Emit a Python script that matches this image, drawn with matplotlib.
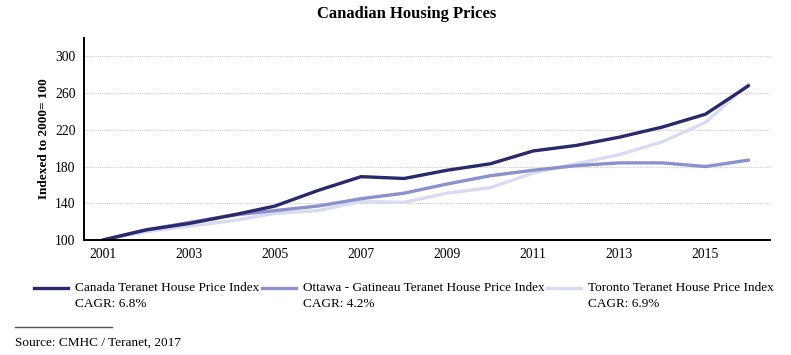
import matplotlib.pyplot as plt
from matplotlib.lines import Line2D

plt.rcParams['font.family'] = ['Liberation Serif', 'DejaVu Serif']

years = list(range(2001, 2017))
canada = [100, 111, 118, 127, 137, 154, 169, 167, 176, 183, 197, 203, 212, 223, 237, 268]
ottawa = [100, 111, 119, 127, 132, 137, 145, 151, 161, 170, 176, 181, 184, 184, 180, 187]
toronto = [100, 109, 115, 121, 129, 132, 142, 141, 151, 157, 173, 183, 193, 207, 228, 270]

series_names = ["Canada Teranet House Price Index",
                "Ottawa - Gatineau Teranet House Price Index",
                "Toronto Teranet House Price Index"]
cagr = ["CAGR: 6.8%", "CAGR: 4.2%", "CAGR: 6.9%"]
colors = ['#29296b', '#8c90cc', '#d8dbf2']

yticks = [100, 140, 180, 220, 260, 300]
xticks = list(range(2001, 2017, 2))

fig = plt.figure(figsize=(7.91, 3.55), dpi=100)
ax = fig.add_axes([84 / 791, 1 - 240 / 355, 686 / 791, 202 / 355])

for vals, c in zip([toronto, ottawa, canada], colors[::-1]):
    ax.plot(years, vals, color=c, lw=2.4, solid_capstyle='round')

ax.set_xlim(2000.56, 2016.5)
ax.set_ylim(100, 320)
ax.set_yticks(yticks)
ax.set_xticks(xticks)
ax.tick_params(length=0, labelsize=9.8, pad=6)
ax.grid(axis='y', color='#c8c8d0', lw=0.8, ls=(0, (1, 1)))
ax.set_axisbelow(True)
for s in ['top', 'right']:
    ax.spines[s].set_visible(False)
ax.spines['left'].set_linewidth(1.4)
ax.spines['bottom'].set_linewidth(1.4)
ax.set_ylabel('Indexed to 2000= 100', fontsize=9.5, fontweight='bold', labelpad=4)

fig.text(407 / 791, 1 - 14 / 355, 'Canadian Housing Prices', ha='center', va='center',
         fontsize=12, fontweight='bold')

# legend drawn by hand so the handle sits on the first text line
leg_x = [34, 262, 547]
for x0, name, rate, c in zip(leg_x, series_names, cagr, colors):
    y = 1 - 288 / 355
    fig.add_artist(Line2D([x0 / 791, (x0 + 34) / 791], [y, y], color=c, lw=2.4,
                          transform=fig.transFigure))
    fig.text((x0 + 41) / 791, y, name, ha='left', va='center', fontsize=9.5)
    fig.text((x0 + 41) / 791, 1 - 304 / 355, rate, ha='left', va='center', fontsize=9.5)

fig.add_artist(Line2D([15 / 791, 112 / 791], [1 - 327 / 355, 1 - 327 / 355], color='#555555',
                      lw=1, transform=fig.transFigure))
fig.text(15 / 791, 1 - 343 / 355, 'Source: CMHC / Teranet, 2017', ha='left', va='center', fontsize=9.5)

fig.savefig('out.png', dpi=100)
